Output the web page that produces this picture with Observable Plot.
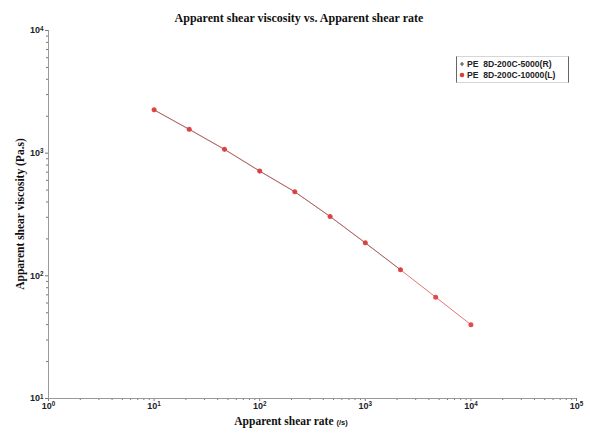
<!DOCTYPE html>
<html>
<head>
<meta charset="utf-8">
<script src="https://cdn.jsdelivr.net/npm/d3@7"></script>
<script src="https://cdn.jsdelivr.net/npm/@observablehq/plot@0.6"></script>
<style>
  html, body { margin: 0; padding: 0; background: #fff; }
  #chart { width: 590px; height: 435px; }
</style>
</head>
<body>
<div id="chart"></div>
<script>
// ---- data ----
const shearRateL = [10, 21.5, 46.4, 100, 215, 464, 1000, 2154, 4642, 10000];
const viscosityL = [2254, 1567, 1076, 716, 485, 305, 186, 112, 67, 40];
const shearRateR = [10, 21.5, 46.4, 100, 215, 464, 1000, 2154];
const viscosityR = [2250, 1560, 1070, 712, 483, 304, 185, 112];
const seriesNames = ["PE  8D-200C-5000(R)", "PE  8D-200C-10000(L)"];
const seriesColors = ["#555555", "#e23a3a"];
const xDomain = [1, 1e5];
const yDomain = [10, 1e4];
const xMajor = [1, 10, 100, 1000, 10000, 100000];
const yMajor = [10, 100, 1000, 10000];
const minorMult = [2, 3, 4, 5, 6, 7, 8, 9];
const titleText = "Apparent shear viscosity vs. Apparent shear rate";
const xLabel = "Apparent shear rate";
const xUnit = "(/s)";
const yLabel = "Apparent shear viscosity (Pa.s)";

const dataL = shearRateL.map((x, i) => ({x, y: viscosityL[i]}));
const dataR = shearRateR.map((x, i) => ({x, y: viscosityR[i]}));
const minors = (majors) => majors.slice(0, -1).flatMap(m => minorMult.map(k => k * m));
const xMinor = minors(xMajor);
const yMinor = minors(yMajor);
const fmt = d => "10|" + Math.round(Math.log10(d));

const plot = Plot.plot({
  width: 590,
  height: 435,
  marginTop: 30,
  marginBottom: 37,
  marginLeft: 48,
  marginRight: 14,
  style: {background: "white", fontFamily: "'Liberation Sans', Arial, sans-serif", overflow: "visible"},
  x: {type: "log", domain: xDomain, axis: null},
  y: {type: "log", domain: yDomain, axis: null},
  marks: [
    Plot.axisX({ticks: xMinor, tickSize: 2, tickFormat: () => "", label: null, stroke: "#777", anchor: "bottom"}),
    Plot.axisY({ticks: yMinor, tickSize: 2, tickFormat: () => "", label: null, stroke: "#777", anchor: "left"}),
    Plot.axisX({ticks: xMajor, tickSize: 3, tickPadding: 1, tickFormat: fmt, label: null, anchor: "bottom",
      stroke: "#777", fill: "#1c1c2c", fontSize: 9, fontWeight: "bold"}),
    Plot.axisY({ticks: yMajor, tickSize: 3, tickPadding: 2, tickFormat: fmt, label: null, anchor: "left",
      stroke: "#777", fill: "#1c1c2c", fontSize: 9, fontWeight: "bold"}),
    Plot.ruleX([xDomain[0]], {stroke: "#999", strokeWidth: 1}),
    Plot.ruleY([yDomain[0]], {stroke: "#999", strokeWidth: 1}),
    Plot.line(dataL, {x: "x", y: "y", stroke: seriesColors[1], strokeWidth: 0.9, strokeOpacity: 0.8}),
    Plot.line(dataR, {x: "x", y: "y", stroke: seriesColors[0], strokeWidth: 0.8, strokeOpacity: 0.6}),
    Plot.dot(dataR, {x: "x", y: "y", symbol: "plus", r: 1.5, stroke: seriesColors[0], strokeWidth: 0.8}),
    Plot.dot(dataL, {x: "x", y: "y", r: 2.5, fill: seriesColors[1], fillOpacity: 0.9, stroke: "none"})
  ]
});

// superscript exponents in tick labels
d3.select(plot).selectAll("text").each(function () {
  const t = this.textContent;
  if (t.indexOf("|") >= 0) {
    const [base, exp] = t.split("|");
    const sel = d3.select(this);
    sel.text("");
    sel.append("tspan").text(base);
    sel.append("tspan").attr("dy", "-0.45em").attr("font-size", "0.7em").text(exp);
  }
});

const svg = d3.select(plot);
const serif = "'Liberation Serif', 'Times New Roman', serif";
svg.append("text").attr("x", 299).attr("y", 22).attr("text-anchor", "middle")
  .attr("font-family", serif).attr("font-weight", "bold").attr("font-size", 12).attr("fill", "#111")
  .text(titleText);
const xl = svg.append("text").attr("x", 291).attr("y", 425).attr("text-anchor", "middle")
  .attr("font-family", serif).attr("font-weight", "bold").attr("font-size", 11.5).attr("fill", "#111");
xl.append("tspan").text(xLabel + " ");
xl.append("tspan").attr("font-size", 7.5).attr("font-family", "'Liberation Sans', Arial, sans-serif").text(xUnit);
svg.append("text").attr("transform", "translate(24,214) rotate(-90)").attr("text-anchor", "middle")
  .attr("font-family", serif).attr("font-weight", "bold").attr("font-size", 11.5).attr("fill", "#111")
  .text(yLabel);

// legend
const lg = svg.append("g").attr("font-family", "'Liberation Sans', Arial, sans-serif")
  .attr("font-size", 8.6).attr("font-weight", "bold").attr("fill", "#222").attr("text-anchor", "start");
lg.append("rect").attr("x", 456.5).attr("y", 56.5).attr("width", 112).attr("height", 26)
  .attr("fill", "white").attr("stroke", "#ccc").attr("stroke-width", 0.8);
lg.append("line").attr("x1", 456.5).attr("x2", 456.5).attr("y1", 56.5).attr("y2", 82.5).attr("stroke", "#666");
lg.append("line").attr("x1", 568.5).attr("x2", 568.5).attr("y1", 56.5).attr("y2", 82.5).attr("stroke", "#666");
seriesNames.forEach((name, i) => {
  const yy = 64 + i * 11;
  if (i === 0) {
    lg.append("path").attr("d", `M${460},${yy}h4M${462},${yy - 2}v4`).attr("stroke", seriesColors[0]).attr("stroke-width", 1.2);
  } else {
    lg.append("circle").attr("cx", 462).attr("cy", yy).attr("r", 2.3).attr("fill", seriesColors[1]);
  }
  lg.append("text").attr("x", 467).attr("y", yy + 3).attr("text-anchor", "start").text(name);
});

document.getElementById("chart").appendChild(plot);
</script>
</body>
</html>
